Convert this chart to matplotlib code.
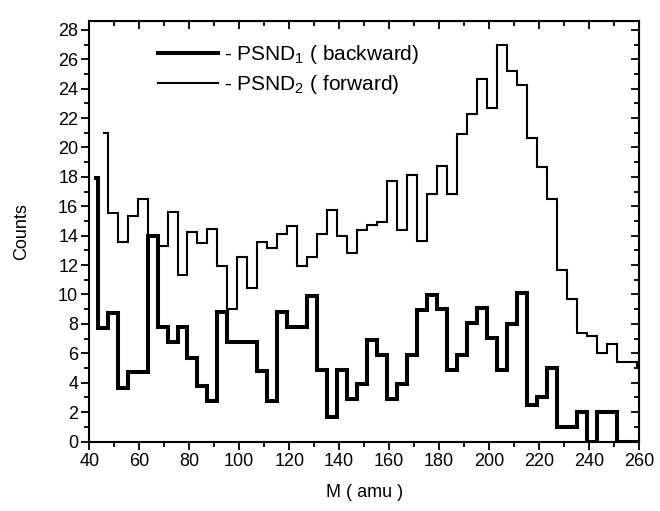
import matplotlib
matplotlib.use("Agg")
import matplotlib.pyplot as plt
import numpy as np
from matplotlib.ticker import MultipleLocator

plt.rcParams['font.family'] = ['Liberation Sans', 'DejaVu Sans']
plt.rcParams['mathtext.fontset'] = 'custom'
plt.rcParams['mathtext.rm'] = 'Liberation Sans'

# mass bins, 4 amu wide
bin_width = 4
first_edge = 43.3

# PSND1 (backward), thick line; first value is the short stub at the left
backward_start = 42.0
backward_first = 17.9
backward = [7.7, 8.72, 3.62, 4.75, 4.75, 13.95, 7.81, 6.75, 7.81, 5.65,
            3.8, 2.75, 8.8, 6.75, 6.75, 6.75, 4.8, 2.78, 8.83, 7.81,
            7.81, 9.9, 4.86, 1.69, 4.86, 2.88, 3.91, 6.9, 5.88, 2.87,
            3.91, 5.88, 8.95, 9.97, 9.0, 4.86, 5.88, 8.04, 9.06, 7.02,
            4.86, 7.99, 10.08, 2.48, 3.05, 5.0, 1.0, 1.0, 2.0, 0.0,
            2.0, 2.0, 0.0, 0.0, 0.0]

# PSND2 (forward), thin line
forward_start = 45.3
forward_first = 21.0
forward = [15.57, 13.6, 15.34, 16.47, 14.0, 13.3, 15.6, 11.3, 14.27, 13.48,
           14.45, 11.95, 9.02, 12.57, 10.42, 13.55, 13.14, 14.14, 14.66, 11.94,
           12.57, 14.12, 15.75, 13.98, 12.84, 14.39, 14.73, 14.95, 17.74, 14.39,
           18.13, 13.66, 16.82, 18.75, 16.84, 20.92, 22.26, 24.64, 22.66, 26.97,
           25.2, 24.25, 20.62, 18.7, 16.5, 11.67, 9.67, 7.36, 7.18, 6.0,
           6.63, 5.43, 5.43, 5.09]


def edges_for(start, first, n):
    # stub start followed by regular bin edges
    return np.concatenate([[start], first + bin_width * np.arange(n + 1)])


fig = plt.figure(figsize=(6.6, 5.11), dpi=100)
ax = fig.add_axes([0.1353, 0.136, 0.8329, 0.8229])

h1 = ax.stairs([backward_first] + backward,
               edges_for(backward_start, first_edge, len(backward)),
               baseline=None, color='black', lw=2.9)
h2 = ax.stairs([forward_first] + forward,
               edges_for(forward_start, first_edge + bin_width, len(forward)),
               baseline=None, color='black', lw=1.5)

ax.set_xlim(40, 260)
ax.set_ylim(0, 28.6)
ax.xaxis.set_major_locator(MultipleLocator(20))
ax.xaxis.set_minor_locator(MultipleLocator(10))
ax.yaxis.set_major_locator(MultipleLocator(2))
ax.yaxis.set_minor_locator(MultipleLocator(1))
ax.tick_params(which='both', direction='out', top=False, right=False,
               labelsize=13, width=1.3)
ax.tick_params(which='major', length=6, pad=2)
ax.tick_params(which='minor', length=3.5)
for sp in ax.spines.values():
    sp.set_linewidth(1.5)

top = ax.secondary_xaxis('top')
top.xaxis.set_major_locator(MultipleLocator(20))
top.xaxis.set_minor_locator(MultipleLocator(10))
top.tick_params(which='both', direction='in', labeltop=False, width=1.3)
top.tick_params(which='major', length=6)
top.tick_params(which='minor', length=3.5)
right = ax.secondary_yaxis('right')
right.yaxis.set_major_locator(MultipleLocator(2))
right.yaxis.set_minor_locator(MultipleLocator(1))
right.tick_params(which='both', direction='in', labelright=False, width=1.3)
right.tick_params(which='major', length=6)
right.tick_params(which='minor', length=3.5)

ax.set_xlabel('M ( amu )', fontsize=13, labelpad=10)
ax.set_ylabel('Counts', fontsize=13, labelpad=20)

ax.legend([h1, h2], ['- PSND$_\\mathrm{1}$ ( backward)', '- PSND$_\\mathrm{2}$ ( forward)'],
          loc='upper left', bbox_to_anchor=(0.125, 0.948), frameon=False,
          fontsize=15, handlelength=2.9, handletextpad=0.25, labelspacing=0.34,
          borderpad=0, borderaxespad=0)

fig.savefig('out.png', dpi=100)
